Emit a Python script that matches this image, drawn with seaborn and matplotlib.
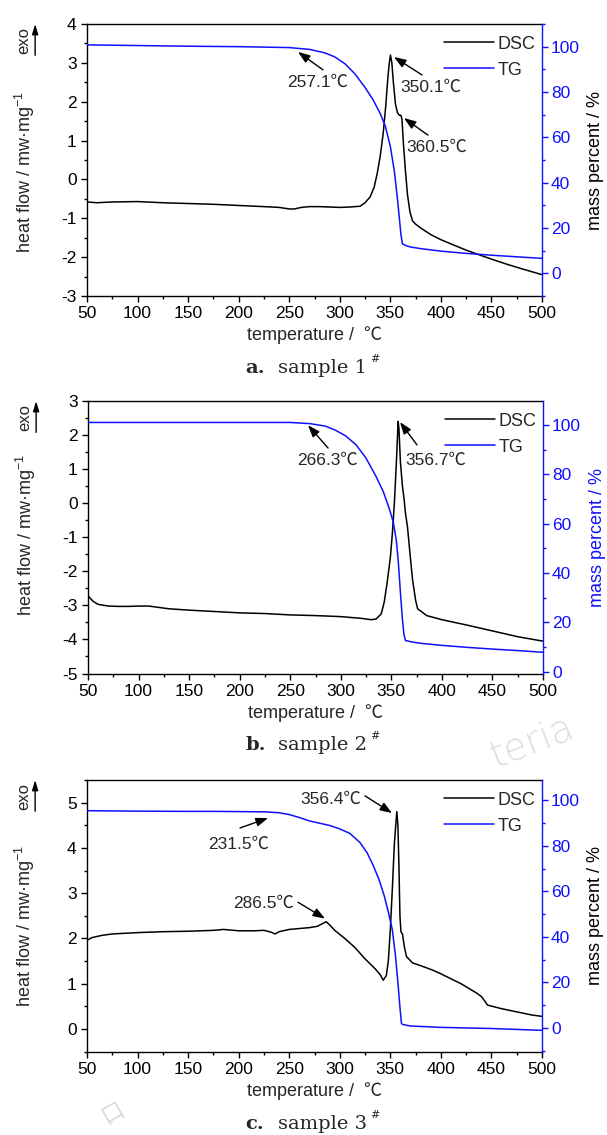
import matplotlib
matplotlib.use('Agg')
import matplotlib.pyplot as plt
import seaborn as sns
from matplotlib.ticker import MultipleLocator, FormatStrFormatter

# ---- data ----
# sample 1
t1_dsc = [50, 60, 75, 100, 125, 150, 175, 200, 225, 240, 250, 255, 262, 270, 280, 290, 300, 310, 320,
          325, 330, 334, 337, 340, 343, 345.5, 347.5, 349, 350.1, 351.5, 353, 355, 357, 359, 360.5,
          361.5, 363, 365, 367, 369.5, 372, 375, 380, 390, 400, 410, 425, 440, 450, 465, 480, 500]
dsc1 = [-0.58, -0.6, -0.58, -0.57, -0.6, -0.62, -0.64, -0.67, -0.7, -0.72, -0.76, -0.76, -0.72, -0.7, -0.7,
        -0.71, -0.72, -0.71, -0.69, -0.6, -0.45, -0.2, 0.15, 0.6, 1.2, 1.9, 2.6, 3.0, 3.2, 3.0, 2.5, 1.95,
        1.72, 1.65, 1.65, 1.55, 0.9, 0.2, -0.4, -0.85, -1.07, -1.15, -1.25, -1.42, -1.55, -1.66, -1.82,
        -1.96, -2.05, -2.18, -2.3, -2.45]
t1_tg = [50, 100, 150, 200, 250, 270, 285, 295, 305, 315, 325, 333, 340, 345, 350, 354, 357, 359, 360.5,
         362, 365, 370, 380, 400, 425, 450, 475, 500]
tg1 = [100.8, 100.5, 100.2, 100.0, 99.6, 98.8, 97.3, 95.5, 92.5, 88, 82, 76.5, 70.5, 65, 56, 45, 33, 24,
       17, 13, 12.3, 11.6, 10.9, 9.8, 8.8, 8.0, 7.3, 6.6]
notes1 = ['257.1℃', '350.1℃', '360.5℃']

# sample 2
t2_dsc = [50, 55, 60, 70, 80, 90, 100, 110, 120, 130, 150, 175, 200, 225, 250, 275, 300, 320, 330, 335,
          340, 343, 346, 349, 351, 353, 355, 356.7, 357.5, 359, 361, 362.5, 364, 366, 368.5, 371, 374,
          376, 385, 400, 425, 450, 475, 500]
dsc2 = [-2.72, -2.88, -2.97, -3.02, -3.03, -3.03, -3.02, -3.02, -3.06, -3.1, -3.14, -3.18, -3.22, -3.24,
        -3.28, -3.3, -3.33, -3.38, -3.42, -3.4, -3.25, -2.9, -2.3, -1.6, -0.9, 0.0, 1.2, 2.4, 2.2, 1.2,
        0.5, 0.15, -0.3, -0.7, -1.5, -2.25, -2.85, -3.1, -3.3, -3.42, -3.58, -3.75, -3.92, -4.05]
t2_tg = [50, 100, 150, 200, 250, 270, 285, 295, 305, 315, 325, 335, 342, 348, 352, 355, 357, 359, 361,
         362.5, 364, 370, 380, 400, 425, 450, 475, 500]
tg2 = [101, 101, 101, 101, 101, 100.5, 99.5, 97.8, 95.5, 92, 86.5, 79, 73, 66, 60.5, 53, 44, 32, 21, 15,
       12.6, 12, 11.4, 10.6, 9.8, 9.1, 8.5, 7.8]
notes2 = ['266.3℃', '356.7℃']

# sample 3
t3_dsc = [50, 55, 65, 75, 100, 125, 150, 175, 185, 200, 215, 225, 232, 236, 240, 250, 260, 270, 278, 283,
          286.5, 290, 295, 305, 315, 325, 335, 340, 343, 346, 348, 350, 352, 354, 356.4, 357.5, 358.5,
          359.5, 360.5, 362, 364, 366, 372, 380, 392, 400, 420, 435, 440, 444, 446, 460, 475, 490, 500]
dsc3 = [1.96, 2.02, 2.07, 2.1, 2.13, 2.15, 2.16, 2.18, 2.2, 2.17, 2.17, 2.18, 2.14, 2.1, 2.15, 2.2, 2.22,
        2.24, 2.27, 2.33, 2.37, 2.3, 2.18, 2.0, 1.8, 1.55, 1.33, 1.2, 1.08, 1.18, 1.5, 2.2, 3.1, 4.1, 4.8,
        4.5, 3.6, 2.5, 2.15, 2.1, 1.8, 1.6, 1.46, 1.4, 1.3, 1.22, 1.0, 0.8, 0.72, 0.6, 0.53, 0.45, 0.38,
        0.31, 0.28]
t3_tg = [50, 100, 150, 175, 200, 225, 240, 250, 260, 270, 280, 290, 300, 310, 320, 327, 333, 339, 344,
         348, 352, 355, 357.5, 359.5, 361, 362, 370, 400, 450, 500]
tg3 = [95.5, 95.3, 95.2, 95.2, 95.1, 95.0, 94.6, 93.8, 92.5, 91, 90, 89, 87.5, 85.5, 81.5, 77, 71.5, 65,
       58, 51, 43, 32, 20, 9, 2, 1.5, 0.8, 0.2, -0.3, -1.1]
notes3 = ['356.4℃', '231.5℃', '286.5℃']

captions = [('a.', 'sample 1'), ('b.', 'sample 2'), ('c.', 'sample 3')]

# ---- style ----
sns.set_theme(style='ticks')
plt.rcParams['font.family'] = ['Liberation Sans', 'Noto Sans CJK SC', 'DejaVu Sans']
plt.rcParams['mathtext.fontset'] = 'custom'
plt.rcParams['mathtext.rm'] = 'Liberation Sans'
plt.rcParams['mathtext.default'] = 'regular'
plt.rcParams['axes.unicode_minus'] = False

W, H = 607, 1135
fig = plt.figure(figsize=(W / 100, H / 100), dpi=100)

BLUE = '#1010ff'
arrow_kw = dict(arrowstyle='-|>,head_length=0.6,head_width=0.22', color='black', lw=1.0,
                shrinkA=0, shrinkB=0)


def panel(rect, t_dsc, dsc, t_tg, tg, ylim, tg_lim, ylab_y, right_col):
    ax = fig.add_axes(rect)
    sns.lineplot(x=t_dsc, y=dsc, ax=ax, color='black', linewidth=1.1, sort=False, label='DSC', legend=False)
    ax2 = ax.twinx()
    sns.lineplot(x=t_tg, y=tg, ax=ax2, color=BLUE, linewidth=1.1, sort=False, label='TG', legend=False)

    ax.set_xlim(50, 500)
    ax.set_ylim(*ylim)
    ax2.set_ylim(*tg_lim)
    ax.xaxis.set_major_locator(MultipleLocator(50))
    ax.xaxis.set_minor_locator(MultipleLocator(25))
    ax.yaxis.set_major_locator(MultipleLocator(1))
    ax.yaxis.set_minor_locator(MultipleLocator(0.5))
    ax.yaxis.set_major_formatter(FormatStrFormatter('%d'))
    ax2.yaxis.set_major_locator(MultipleLocator(20))
    ax2.yaxis.set_minor_locator(MultipleLocator(10))

    for s in ax.spines.values():
        s.set_linewidth(1.0)
        s.set_color('black')
    ax.spines['right'].set_visible(False)
    for k in ('left', 'top', 'bottom'):
        ax2.spines[k].set_visible(False)
    ax2.spines['right'].set_color(BLUE)
    ax2.spines['right'].set_linewidth(1.0)

    ax.tick_params(which='both', direction='out', top=False, right=False, width=1.0, colors='black',
                   labelsize=12.5)
    ax.tick_params(which='major', length=4.5, pad=3)
    ax.tick_params(which='minor', length=2.5)
    ax2.tick_params(which='both', direction='out', width=1.0, colors=BLUE, labelsize=12.5)
    ax2.tick_params(which='major', length=4.5, pad=2)
    ax2.tick_params(which='minor', length=2.5)
    ax.grid(False)
    ax2.grid(False)

    ax.set_xlabel('temperature /  ℃', fontsize=13, labelpad=3.5)
    ax.set_ylabel('heat flow / mw·mg$^{-1}$', fontsize=13)
    ax.yaxis.set_label_coords(-0.11, ylab_y)
    ax2.set_ylabel('mass percent / %', fontsize=13, color=right_col)
    ax2.yaxis.set_label_coords(1.10, 0.5)

    # exo arrow
    ax.annotate('', xy=(-0.114, 1.0), xytext=(-0.114, 0.885), xycoords='axes fraction',
                arrowprops=dict(arrowstyle='-|>,head_length=0.5,head_width=0.15', color='black', lw=1.0,
                                shrinkA=0, shrinkB=0), annotation_clip=False)
    ax.text(-0.139, 0.94, 'exo', rotation=90, transform=ax.transAxes, ha='center', va='center', fontsize=12)

    handles = [ax.get_lines()[0], ax2.get_lines()[0]]
    ax2.legend(handles, ['DSC', 'TG'], loc='upper right', bbox_to_anchor=(1.012, 1.0), frameon=False,
               fontsize=13, handlelength=2.8, handletextpad=0.2, labelspacing=0.5, borderaxespad=0.45,
               borderpad=0.2)
    return ax, ax2


def note(ax, text, txy, tail, tip):
    ax.text(txy[0], txy[1], text, fontsize=12.5, ha='left', va='center')
    ax.annotate('', xy=tip, xytext=tail, arrowprops=arrow_kw)


# panel a
axa, _ = panel([87 / W, 1 - 296 / H, 455 / W, 272 / H], t1_dsc, dsc1, t1_tg, tg1,
               (-3, 4), (-10, 110), 0.456, 'black')
note(axa, notes1[0], (247.8, 2.5), (283.4, 2.82), (258.7, 3.28))
note(axa, notes1[1], (359.5, 2.38), (381.3, 2.69), (353.6, 3.15))
note(axa, notes1[2], (365.5, 0.83), (387.2, 1.14), (363.5, 1.58))

# panel b
axb, _ = panel([88 / W, 1 - 673.5 / H, 455 / W, 272.5 / H], t2_dsc, dsc2, t2_tg, tg2,
               (-5, 3), (-0.8, 109.7), 0.51, BLUE)
note(axb, notes2[0], (256.7, 1.27), (287.4, 1.62), (267.6, 2.29))
note(axb, notes2[1], (363.5, 1.27), (375.4, 1.71), (358.6, 2.38))

# panel c
axc, _ = panel([87 / W, 1 - 1051.7 / H, 455 / W, 271.7 / H], t3_dsc, dsc3, t3_tg, tg3,
               (-0.5, 5.5), (-10.5, 109), 0.463, 'black')
note(axc, notes3[0], (260.7, 5.08), (324.9, 5.15), (351.7, 4.77))
note(axc, notes3[1], (169.7, 4.09), (201.3, 4.44), (229, 4.66))
note(axc, notes3[2], (194.4, 2.78), (258.7, 2.8), (285.4, 2.44))

# captions
for (tag, txt), base in zip(captions, [373, 750, 1129]):
    fig.text(245 / W, 1 - base / H, tag, fontsize=14, fontweight='bold', family='DejaVu Serif',
             ha='left', va='baseline')
    fig.text(278 / W, 1 - base / H, txt, fontsize=14, family='DejaVu Serif', ha='left', va='baseline')
    fig.text(370 / W, 1 - (base - 11) / H, '#', fontsize=8, family='DejaVu Serif', ha='left', va='baseline')

# faint watermarks
fig.text(495 / W, 1 - 768 / H, 'teria', rotation=21, rotation_mode='anchor', fontsize=27,
         color='#dedede', family='DejaVu Sans', fontweight='light', ha='left', va='baseline')
fig.text(113 / W, 1 - 1113 / H, '口', rotation=30, rotation_mode='anchor', fontsize=16,
         color='#dadada', family='Noto Sans CJK SC', ha='center', va='center')

fig.savefig('out.png', dpi=100)
